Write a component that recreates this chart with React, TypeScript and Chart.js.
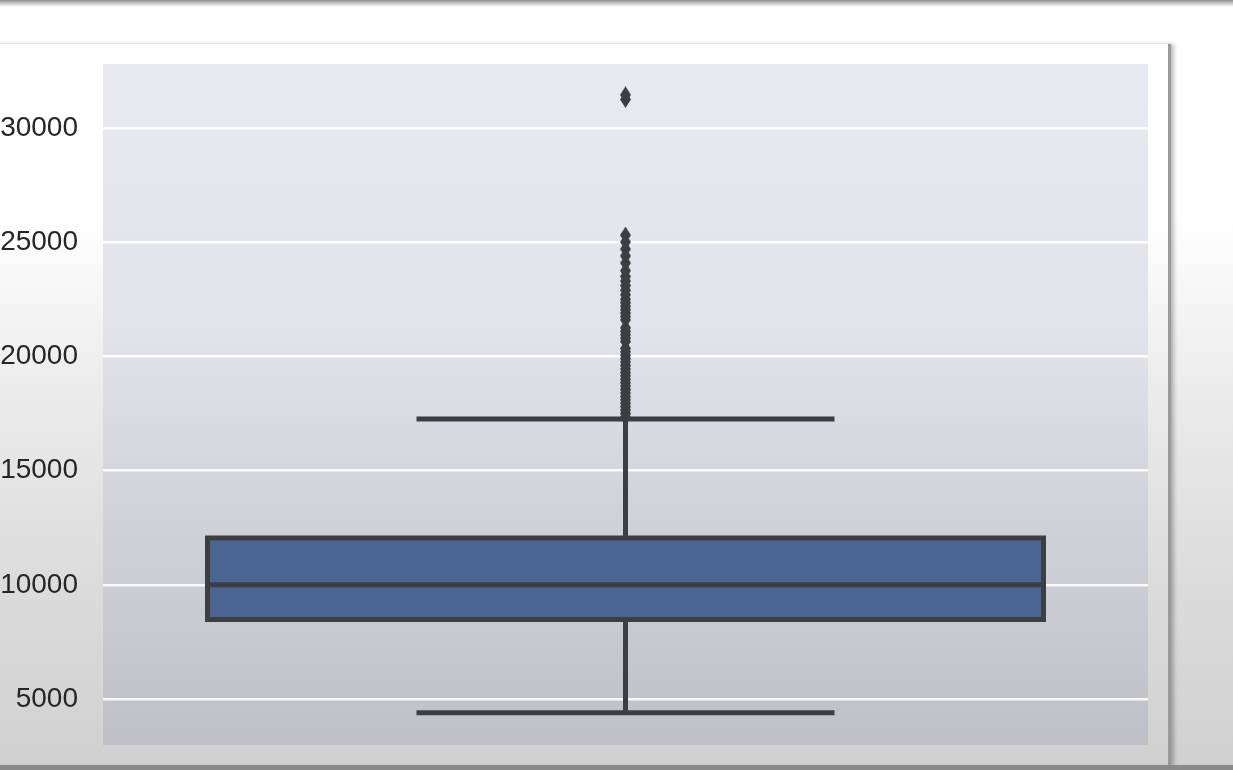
import React, { useEffect, useRef } from "react";
import { Chart, registerables } from "chart.js";

Chart.register(...registerables);

// ---- data ----
const yTickValues = [5000, 10000, 15000, 20000, 25000, 30000];
const lowerWhisker = 4400;
const q1 = 8480;
const median = 10000;
const q3 = 12050;
const upperWhisker = 17260;
const outliers = [
  17350, 17500, 17650, 17800, 17950, 18100, 18250, 18400, 18550, 18700,
  18850, 19000, 19150, 19300, 19450, 19600, 19750, 19900, 20050, 20200,
  20350, 20650, 20800, 20950, 21100, 21250, 21600, 21750, 21900, 22050,
  22200, 22350, 22500, 22700, 22900, 23100, 23300, 23500, 23750, 24090,
  24400, 24700, 25010, 25310, 31250, 31450,
];
const yMin = 2990;
const yMax = 32800;
// seaborn box geometry (category units)
const boxHalfWidth = 0.4;
const capHalfWidth = 0.2;

const BOX_FILL = "#4a6592";
const LINE = "#3d3e42";

function makeDiamond(): HTMLCanvasElement {
  const c = document.createElement("canvas");
  const w = 11;
  const h = 17;
  c.width = w;
  c.height = h;
  const ctx = c.getContext("2d")!;
  ctx.fillStyle = LINE;
  ctx.beginPath();
  ctx.moveTo(w / 2, 0);
  ctx.lineTo(w, h / 2);
  ctx.lineTo(w / 2, h);
  ctx.lineTo(0, h / 2);
  ctx.closePath();
  ctx.fill();
  return c;
}

const plotBg = {
  id: "plotBg",
  beforeDraw(chart: any) {
    const { ctx, chartArea } = chart;
    if (!chartArea) return;
    const g = ctx.createLinearGradient(0, chartArea.top, 0, chartArea.bottom);
    g.addColorStop(0, "#e9e9f1");
    g.addColorStop(0.4, "#e2e2ea");
    g.addColorStop(0.65, "#d2d2da");
    g.addColorStop(1, "#bfbfc7");
    ctx.save();
    ctx.fillStyle = g;
    ctx.fillRect(chartArea.left, chartArea.top, chartArea.right - chartArea.left, chartArea.bottom - chartArea.top);
    ctx.restore();
  },
};

export default function App() {
  const ref = useRef<HTMLCanvasElement | null>(null);

  useEffect(() => {
    document.body.style.margin = "0";
    if (!ref.current) return;
    const diamond = makeDiamond();
    const lineDs = (data: { x: number; y: number }[], extra: any = {}) => ({
      type: "line",
      data,
      borderColor: LINE,
      borderWidth: 5,
      pointRadius: 0,
      fill: false,
      tension: 0,
      borderCapStyle: "butt",
      borderJoinStyle: "miter",
      ...extra,
    });
    const chart = new Chart(ref.current, {
      type: "line",
      data: {
        datasets: [
          {
            type: "line",
            label: "outliers",
            data: outliers.map((v) => ({ x: 0, y: v })),
            showLine: false,
            pointStyle: diamond,
            pointRadius: 5,
            backgroundColor: LINE,
            borderColor: LINE,
          } as any,
          lineDs([
            { x: -capHalfWidth, y: upperWhisker },
            { x: capHalfWidth, y: upperWhisker },
          ]),
          lineDs([
            { x: -capHalfWidth, y: lowerWhisker },
            { x: capHalfWidth, y: lowerWhisker },
          ]),
          lineDs([
            { x: 0, y: q3 },
            { x: 0, y: upperWhisker },
          ]),
          lineDs([
            { x: 0, y: q1 },
            { x: 0, y: lowerWhisker },
          ]),
          lineDs([
            { x: -boxHalfWidth, y: median },
            { x: boxHalfWidth, y: median },
          ]),
          lineDs([
            { x: 0, y: q1 },
            { x: boxHalfWidth, y: q1 },
            { x: boxHalfWidth, y: q3 },
            { x: -boxHalfWidth, y: q3 },
            { x: -boxHalfWidth, y: q1 },
            { x: 0, y: q1 },
          ]),
          lineDs(
            [
              { x: -boxHalfWidth, y: q3 },
              { x: boxHalfWidth, y: q3 },
            ],
            { borderWidth: 0, fill: "+1", backgroundColor: BOX_FILL }
          ),
          lineDs(
            [
              { x: -boxHalfWidth, y: q1 },
              { x: boxHalfWidth, y: q1 },
            ],
            { borderWidth: 0 }
          ),
        ] as any,
      },
      options: {
        animation: false,
        responsive: false,
        events: [],
        layout: { padding: { left: 0, right: 85, top: 64, bottom: 25 } },
        plugins: {
          legend: { display: false },
          tooltip: { enabled: false },
        },
        scales: {
          x: {
            type: "linear",
            min: -0.5,
            max: 0.5,
            display: false,
          },
          y: {
            type: "linear",
            min: yMin,
            max: yMax,
            afterFit(scale: any) {
              scale.width = 103;
              scale.paddingTop = 0;
              scale.paddingBottom = 0;
            },
            afterBuildTicks(scale: any) {
              scale.ticks = yTickValues.map((v) => ({ value: v }));
            },
            border: { display: false },
            grid: {
              color: "rgba(255,255,255,0.9)",
              lineWidth: 2.5,
              drawTicks: false,
            },
            ticks: {
              padding: 25,
              color: "#262626",
              font: { family: "'Liberation Sans', Arial, sans-serif", size: 28 },
              callback: (v: any) => String(v),
            },
          },
        },
      },
      plugins: [plotBg],
    } as any);
    return () => chart.destroy();
  }, []);

  return (
    <div
      style={{
        position: "fixed",
        left: 0,
        top: 0,
        width: 1233,
        height: 770,
        overflow: "hidden",
        background:
          "linear-gradient(to bottom, #ffffff 0%, #ffffff 28%, #ececec 50%, #dcdcdc 75%, #d0d0d0 100%)",
      }}
    >
      <div
        style={{
          position: "absolute",
          left: 0,
          top: 0,
          width: 1233,
          height: 7,
          background: "linear-gradient(to bottom, #8e8e8e, #d8d8d8 60%, #ffffff)",
        }}
      />
      <div
        style={{
          position: "absolute",
          left: -20,
          top: 44,
          width: 1188,
          height: 722,
          borderRight: "3px solid #9a9a9a",
          boxShadow: "3px 0 4px rgba(0,0,0,0.25)",
        }}
      />
      <div
        style={{
          position: "absolute",
          left: 0,
          top: 765,
          width: 1233,
          height: 5,
          background: "#8a8a8a",
        }}
      />
      <canvas
        ref={ref}
        width={1233}
        height={770}
        style={{ position: "absolute", left: 0, top: 0, width: 1233, height: 770 }}
      />
    </div>
  );
}
